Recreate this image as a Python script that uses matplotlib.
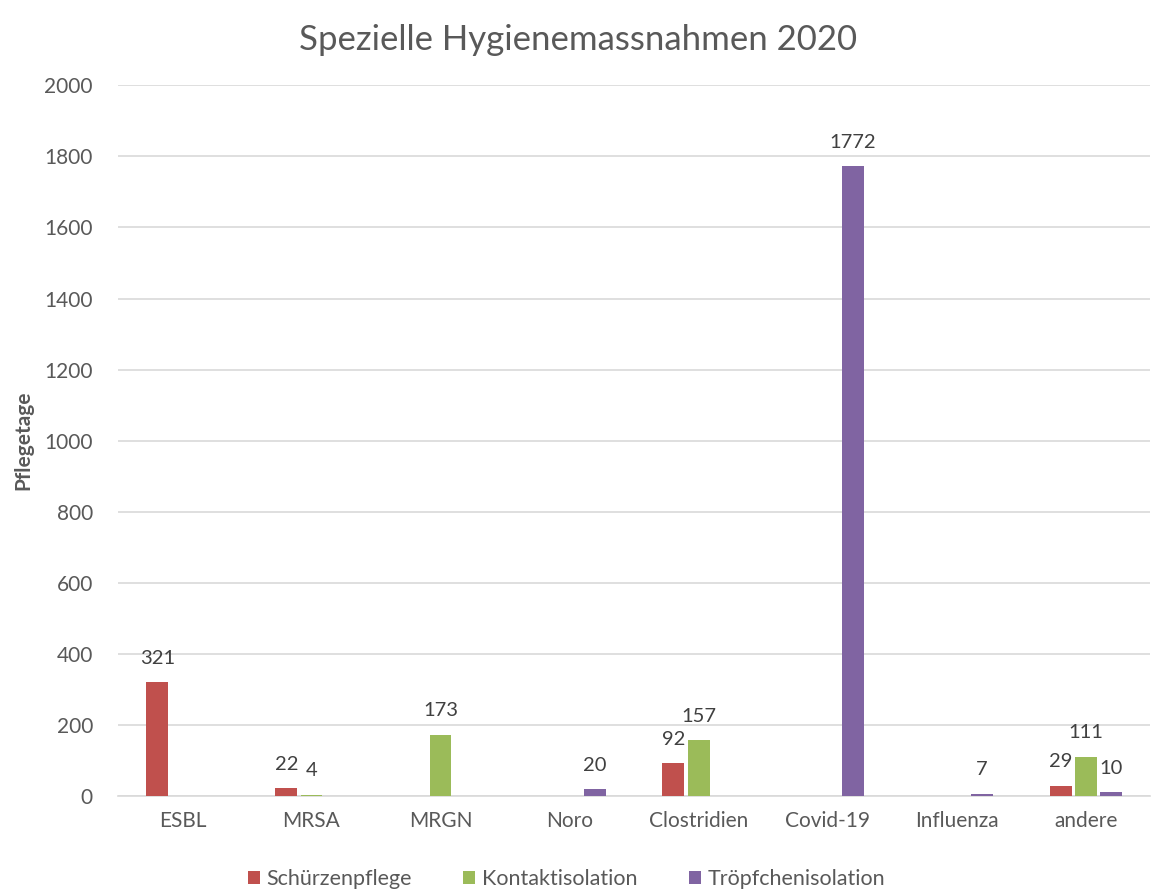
import matplotlib.pyplot as plt
import numpy as np

plt.rcParams['font.family'] = ['Lato', 'DejaVu Sans']

# Data
categories = ['ESBL', 'MRSA', 'MRGN', 'Noro', 'Clostridien', 'Covid-19', 'Influenza', 'andere']
schuerzenpflege = [321, 22, 0, 0, 92, 0, 0, 29]
kontaktisolation = [0, 4, 173, 0, 157, 0, 0, 111]
troepfchenisolation = [0, 0, 0, 20, 0, 1772, 7, 10]

series = [
    ('Schürzenpflege', schuerzenpflege, '#C0504D'),
    ('Kontaktisolation', kontaktisolation, '#9BBB59'),
    ('Tröpfchenisolation', troepfchenisolation, '#8064A2'),
]

text_color = '#595959'

fig = plt.figure(figsize=(11.56, 8.89), dpi=100)
ax = fig.add_axes([0.102, 0.1046, 0.893, 0.7994])

x = np.arange(len(categories))
width = 0.17
offsets = [-0.195, 0, 0.195]

for (name, values, color), off in zip(series, offsets):
    bars = ax.bar(x + off, values, width, color=color, label=name, zorder=3)
    # value labels, skip empty bars
    for bar, v in zip(bars, values):
        if v > 0:
            ax.annotate(str(v), (bar.get_x() + bar.get_width() / 2, v),
                        xytext=(0, 11), textcoords='offset points',
                        ha='center', va='bottom', fontsize=14.5, color='#404040')

ax.set_xlim(-0.5, len(categories) - 0.5)
ax.set_ylim(0, 2000)
ax.set_yticks(range(0, 2001, 200))
ax.set_xticks(x)
ax.set_xticklabels(categories)
ax.yaxis.grid(True, color='#D9D9D9', linewidth=1.2, zorder=0)

for side in ['top', 'right', 'left']:
    ax.spines[side].set_visible(False)
ax.spines['bottom'].set_color('#D9D9D9')
ax.spines['bottom'].set_linewidth(1.2)
ax.tick_params(axis='both', length=0, labelsize=15, colors=text_color)
ax.tick_params(axis='x', pad=11)
ax.tick_params(axis='y', pad=18)

ax.set_ylabel('Pflegetage', fontsize=15, fontweight='bold', color=text_color, labelpad=8)
fig.suptitle('Spezielle Hygienemassnahmen 2020', fontsize=25, color=text_color, y=0.973)

fig.legend(loc='lower center', bbox_to_anchor=(0.49, -0.022), ncol=3, frameon=False,
           fontsize=15.5, labelcolor=text_color, handlelength=0.55, handleheight=0.55,
           handletextpad=0.3, columnspacing=2.4)

fig.savefig('out.png', dpi=100)
